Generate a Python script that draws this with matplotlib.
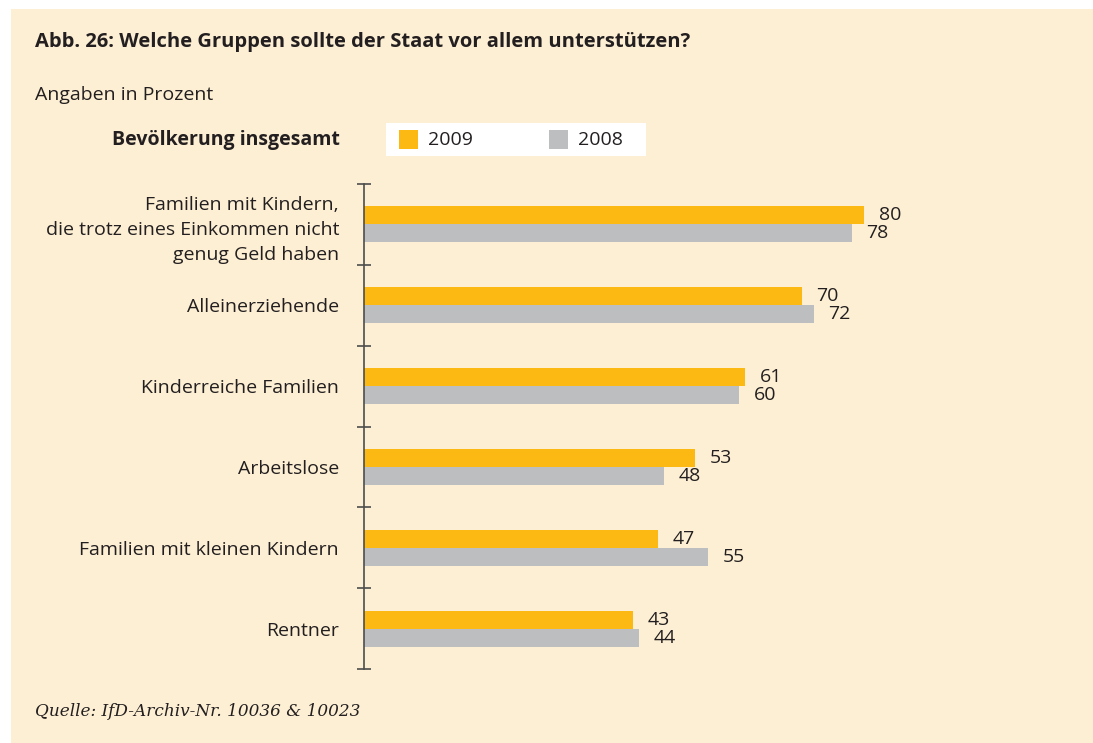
import matplotlib.pyplot as plt
from matplotlib.patches import Rectangle

categories = [
    "Familien mit Kindern,\ndie trotz eines Einkommen nicht\ngenug Geld haben",
    "Alleinerziehende",
    "Kinderreiche Familien",
    "Arbeitslose",
    "Familien mit kleinen Kindern",
    "Rentner",
]
values_2009 = [80, 70, 61, 53, 47, 43]
values_2008 = [78, 72, 60, 48, 55, 44]
series_labels = ["2009", "2008"]

BG = "#fdefd3"
ORANGE = "#fdb913"
GREY = "#bcbec0"
TEXT = "#231f20"
FONT = "Open Sans"
FS = 14

W, H = 1093, 743
fig = plt.figure(figsize=(W / 100, H / 100), dpi=100)
fig.patch.set_facecolor("white")

# cream panel
fig.patches.append(Rectangle((11 / W, 0), 1 - 11 / W, 1 - 9 / H,
                             transform=fig.transFigure, facecolor=BG,
                             edgecolor="none", zorder=-1))


def fx(px):
    return px / W


def fy(py):
    return 1 - py / H


ax = fig.add_axes([fx(364), fy(669), fx(364 + 625) - fx(364), fy(184) - fy(669)])
ax.set_facecolor("none")
ax.set_zorder(3)

n = len(categories)
pos = list(range(n))
bh = 0.223
ax.barh([p - bh / 2 for p in pos], values_2009, height=bh, color=ORANGE, label=series_labels[0])
ax.barh([p + bh / 2 for p in pos], values_2008, height=bh, color=GREY, label=series_labels[1])

for p, v in zip(pos, values_2009):
    ax.annotate(str(v), (v, p - bh / 2), xytext=(10.5, 0), textcoords="offset points",
                va="center", ha="left", fontsize=FS, color=TEXT, family=FONT)
for p, v in zip(pos, values_2008):
    ax.annotate(str(v), (v, p + bh / 2), xytext=(10.5, 0), textcoords="offset points",
                va="center", ha="left", fontsize=FS, color=TEXT, family=FONT)

ax.set_xlim(0, 100)
ax.set_ylim(n - 0.5, -0.5)
for s in ["top", "right", "bottom"]:
    ax.spines[s].set_visible(False)
ax.spines["left"].set_color("#4d4d4d")
ax.spines["left"].set_linewidth(1.2)
ax.set_xticks([])
ax.set_yticks(pos, categories)
ax.set_yticks([p - 0.5 for p in range(n + 1)], minor=True)
ax.tick_params(axis="y", which="major", length=0, pad=18, labelsize=FS, labelcolor=TEXT)
ax.tick_params(axis="y", which="minor", length=10, width=1.2, direction="inout", color="#4d4d4d")
for lab in ax.get_yticklabels():
    lab.set_family(FONT)
    lab.set_linespacing(1.5)

fig.text(fx(35), fy(42), "Abb. 26: Welche Gruppen sollte der Staat vor allem unterstützen?",
         fontsize=14.5, fontweight="bold", color=TEXT, family=FONT, va="center")
fig.text(fx(35), fy(95), "Angaben in Prozent", fontsize=FS, color=TEXT, family=FONT, va="center")
fig.text(fx(340), fy(140), "Bevölkerung insgesamt", fontsize=FS, fontweight="bold",
         color=TEXT, family=FONT, va="center", ha="right")
fig.text(fx(35), fy(712), "Quelle: IfD-Archiv-Nr. 10036 & 10023", fontsize=12.2,
         style="italic", color=TEXT, family="DejaVu Serif", va="center")

# legend box
fig.patches.append(Rectangle((fx(386), fy(156)), fx(646) - fx(386), fy(123) - fy(156),
                             transform=fig.transFigure, facecolor="white", edgecolor="none"))
for x0, col, lab in [(399, ORANGE, series_labels[0]), (549, GREY, series_labels[1])]:
    fig.patches.append(Rectangle((fx(x0), fy(149)), fx(19), 19 / H,
                                 transform=fig.transFigure, facecolor=col, edgecolor="none"))
    fig.text(fx(x0 + 29), fy(140), lab, fontsize=FS, color=TEXT, family=FONT, va="center")

fig.savefig("out.png", dpi=100, facecolor=fig.get_facecolor())
